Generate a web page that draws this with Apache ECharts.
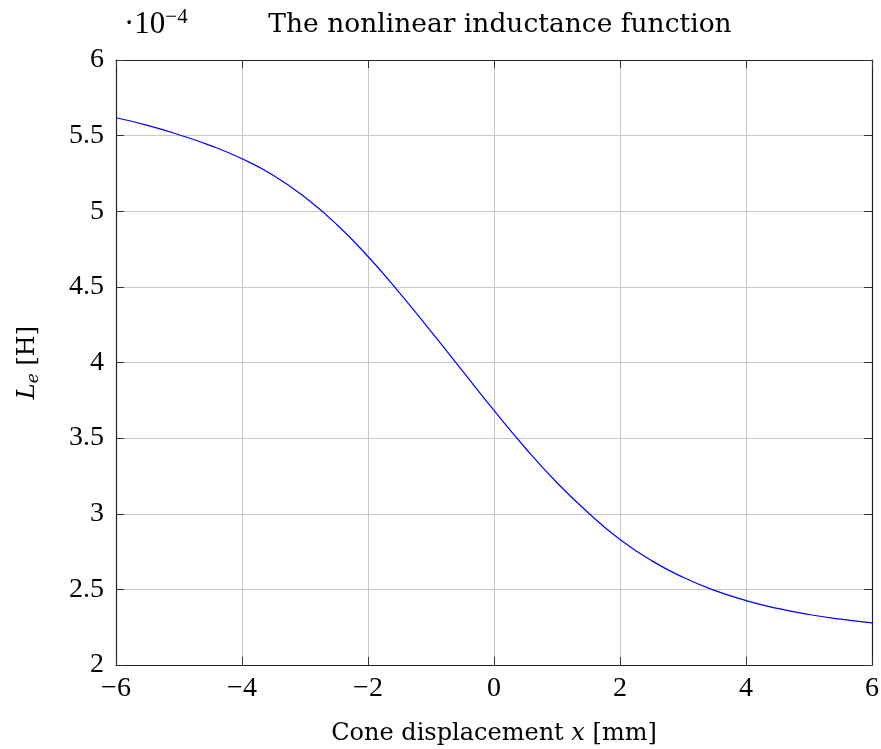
<!DOCTYPE html>
<html><head><meta charset="utf-8">
<script src="https://cdn.jsdelivr.net/npm/echarts@6/dist/echarts.min.js"></script>
<style>html,body{margin:0;padding:0;background:#fff}#c{width:881px;height:749px}</style>
</head><body><div id="c"></div>
<script>
const xValues = [-6,-5.5,-5,-4.5,-4,-3.5,-3,-2.5,-2,-1.5,-1,-0.5,0,0.5,1,1.5,2,2.5,3,3.5,4,4.5,5,5.5,6];
const inductance = [5.618,5.568,5.506,5.434,5.347,5.237,5.092,4.914,4.701,4.461,4.206,3.944,3.683,3.433,3.205,3.005,2.830,2.690,2.580,2.493,2.426,2.374,2.334,2.303,2.279];
const titleText = 'The nonlinear inductance function';
const xName = 'Cone displacement ';
const yScaleLabel = '·10';
const yScaleExp = '−4';

const F = '"DejaVu Serif", "Liberation Serif", serif';
const FN = '"Liberation Serif", "DejaVu Serif", serif';
const chart = echarts.init(document.getElementById('c'));
const data = xValues.map((x,i)=>[x, inductance[i]]);
const fmt = v => (v<0 ? '−'+Math.abs(v) : String(v));
const tickStyle = {show:true, inside:true, length:8, lineStyle:{color:'#333', width:1}};
chart.setOption({
  animation:false,
  backgroundColor:'#fff',
  title:{text:titleText, left:495, top:7, textAlign:'center',
    textStyle:{fontFamily:F, fontSize:26.5, fontWeight:'normal', color:'#000'}},
  graphic:[{type:'text', left:124, top:7, style:{
    text:'{a|'+yScaleLabel+'}{b|'+yScaleExp+'}',
    rich:{a:{fontFamily:FN,fontSize:31,fill:'#000',color:'#000',verticalAlign:'bottom'},
          b:{fontFamily:FN,fontSize:21,fill:'#000',color:'#000',verticalAlign:'top',padding:[0,0,12,0]}}}}],
  grid:{left:116, right:9, top:60, bottom:84, outerBoundsMode:'none', containLabel:false},
  xAxis:[{type:'value', min:-6, max:6, interval:2, position:'bottom',
    name:'{n|'+xName+'}{i|x}{n| [mm]}', nameLocation:'middle', nameGap:57,
    nameTextStyle:{rich:{n:{fontFamily:F,fontSize:24,color:'#000'},i:{fontFamily:F,fontSize:24,fontStyle:'italic',color:'#000'}}},
    axisLine:{show:true,onZero:false,lineStyle:{color:'#222',width:1.2}},
    axisTick:tickStyle,
    axisLabel:{formatter:fmt, fontFamily:FN, fontSize:28, color:'#000', margin:10},
    splitLine:{show:true,lineStyle:{color:'#c8c8c8',width:1}}},
   {type:'value', min:-6, max:6, interval:2, position:'top',
    axisLine:{show:true,onZero:false,lineStyle:{color:'#222',width:1.2}},
    axisTick:tickStyle, axisLabel:{show:false}, splitLine:{show:false}}],
  yAxis:[{type:'value', min:2, max:6, interval:0.5, position:'left',
    name:'{i|L}{s|e}{n| [H]}', nameLocation:'middle', nameGap:74, nameRotate:90,
    nameTextStyle:{rich:{n:{fontFamily:F,fontSize:24,color:'#000'},i:{fontFamily:F,fontSize:24,fontStyle:'italic',color:'#000'},
      s:{fontFamily:F,fontSize:17,fontStyle:'italic',color:'#000',verticalAlign:'bottom',padding:[12,0,0,0]}}},
    axisLine:{show:true,onZero:false,lineStyle:{color:'#222',width:1.2}},
    axisTick:tickStyle,
    axisLabel:{formatter:fmt, fontFamily:FN, fontSize:28, color:'#000', margin:12},
    splitLine:{show:true,lineStyle:{color:'#c8c8c8',width:1}}},
   {type:'value', min:2, max:6, interval:0.5, position:'right',
    axisLine:{show:true,onZero:false,lineStyle:{color:'#222',width:1.2}},
    axisTick:tickStyle, axisLabel:{show:false}, splitLine:{show:false}}],
  series:[{type:'line', data:data, smooth:true, symbol:'none', clip:true,
    lineStyle:{color:'#0000ff', width:1.2}}]
});
</script></body></html>
